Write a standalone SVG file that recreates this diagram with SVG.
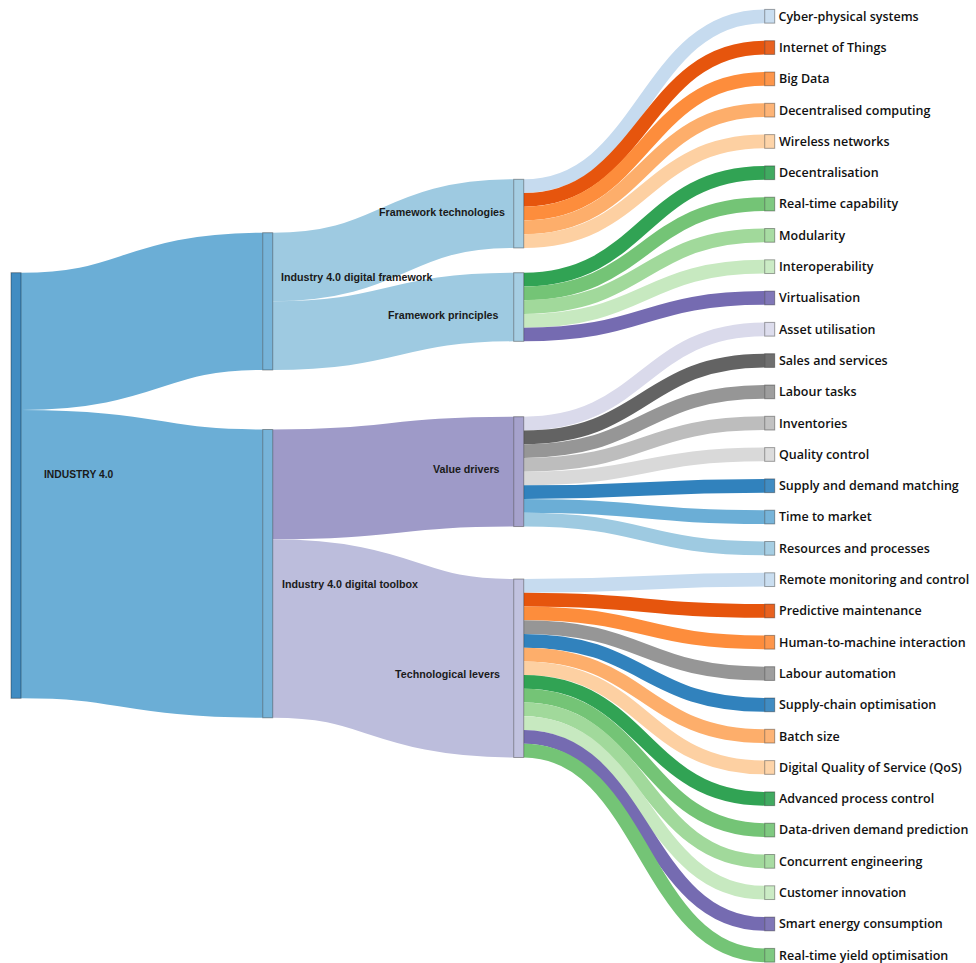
<svg xmlns="http://www.w3.org/2000/svg" width="976" height="963" viewBox="0 0 976 963">
<style>
.bg{fill:#ffffff}
.link{fill:none;stroke-opacity:1}
.node rect{stroke:#000;stroke-opacity:.35;stroke-width:1;fill-opacity:.92}
.mid{font-family:"Liberation Sans",Arial,sans-serif;font-weight:bold;font-size:10.7px;fill:#1a1a1a}
.leaf text{font-family:"Open Sans","Noto Sans",sans-serif;font-weight:600;font-size:12.5px;fill:#111}
</style>
<rect class="bg" x="0" y="0" width="976" height="963"/>
<g id="links">
<path class="link" stroke="#6baed6" stroke-width="137.3" d="M21,341.35C141.85,341.35 141.85,301.35 262.7,301.35"/>
<path class="link" stroke="#6baed6" stroke-width="288.3" d="M21,554.15C141.85,554.15 141.85,573.65 262.7,573.65"/>
<path class="link" stroke="#9ecae1" stroke-width="68.65" d="M272.7,267.03C393.2,267.03 393.2,213.63 513.7,213.63"/>
<path class="link" stroke="#9ecae1" stroke-width="68.65" d="M272.7,335.68C393.2,335.68 393.2,307.03 513.7,307.03"/>
<path class="link" stroke="#9e9ac8" stroke-width="109.84" d="M272.7,484.42C393.2,484.42 393.2,471.62 513.7,471.62"/>
<path class="link" stroke="#bcbddc" stroke-width="178.49" d="M272.7,628.58C393.2,628.58 393.2,668.24 513.7,668.24"/>
<g stroke-width="13.73">
<path class="link" stroke="#c6dbef" d="M523.7,186.17C644.2,186.17 644.2,16.27 764.7,16.27"/>
<path class="link" stroke="#e6550d" d="M523.7,199.9C644.2,199.9 644.2,47.57 764.7,47.57"/>
<path class="link" stroke="#fd8d3c" d="M523.7,213.63C644.2,213.63 644.2,78.87 764.7,78.87"/>
<path class="link" stroke="#fdae6b" d="M523.7,227.36C644.2,227.36 644.2,110.17 764.7,110.17"/>
<path class="link" stroke="#fdd0a2" d="M523.7,241.09C644.2,241.09 644.2,141.47 764.7,141.47"/>
<path class="link" stroke="#31a354" d="M523.7,279.57C644.2,279.57 644.2,172.77 764.7,172.77"/>
<path class="link" stroke="#74c476" d="M523.7,293.3C644.2,293.3 644.2,204.07 764.7,204.07"/>
<path class="link" stroke="#a1d99b" d="M523.7,307.03C644.2,307.03 644.2,235.37 764.7,235.37"/>
<path class="link" stroke="#c7e9c0" d="M523.7,320.76C644.2,320.76 644.2,266.67 764.7,266.67"/>
<path class="link" stroke="#756bb1" d="M523.7,334.49C644.2,334.49 644.2,297.97 764.7,297.97"/>
<path class="link" stroke="#dadaeb" d="M523.7,423.57C644.2,423.57 644.2,329.27 764.7,329.27"/>
<path class="link" stroke="#636363" d="M523.7,437.3C644.2,437.3 644.2,360.57 764.7,360.57"/>
<path class="link" stroke="#969696" d="M523.7,451.03C644.2,451.03 644.2,391.87 764.7,391.87"/>
<path class="link" stroke="#bdbdbd" d="M523.7,464.76C644.2,464.76 644.2,423.17 764.7,423.17"/>
<path class="link" stroke="#d9d9d9" d="M523.7,478.49C644.2,478.49 644.2,454.47 764.7,454.47"/>
<path class="link" stroke="#3182bd" d="M523.7,492.22C644.2,492.22 644.2,485.77 764.7,485.77"/>
<path class="link" stroke="#6baed6" d="M523.7,505.95C644.2,505.95 644.2,517.07 764.7,517.07"/>
<path class="link" stroke="#9ecae1" d="M523.7,519.68C644.2,519.68 644.2,548.37 764.7,548.37"/>
<path class="link" stroke="#c6dbef" d="M523.7,585.87C644.2,585.87 644.2,579.67 764.7,579.67"/>
<path class="link" stroke="#e6550d" d="M523.7,599.6C644.2,599.6 644.2,610.97 764.7,610.97"/>
<path class="link" stroke="#fd8d3c" d="M523.7,613.33C644.2,613.33 644.2,642.27 764.7,642.27"/>
<path class="link" stroke="#969696" d="M523.7,627.06C644.2,627.06 644.2,673.57 764.7,673.57"/>
<path class="link" stroke="#3182bd" d="M523.7,640.79C644.2,640.79 644.2,704.87 764.7,704.87"/>
<path class="link" stroke="#fdae6b" d="M523.7,654.52C644.2,654.52 644.2,736.17 764.7,736.17"/>
<path class="link" stroke="#fdd0a2" d="M523.7,668.25C644.2,668.25 644.2,767.47 764.7,767.47"/>
<path class="link" stroke="#31a354" d="M523.7,681.98C644.2,681.98 644.2,798.77 764.7,798.77"/>
<path class="link" stroke="#74c476" d="M523.7,695.71C644.2,695.71 644.2,830.07 764.7,830.07"/>
<path class="link" stroke="#a1d99b" d="M523.7,709.44C644.2,709.44 644.2,861.37 764.7,861.37"/>
<path class="link" stroke="#c7e9c0" d="M523.7,723.17C644.2,723.17 644.2,892.67 764.7,892.67"/>
<path class="link" stroke="#756bb1" d="M523.7,736.9C644.2,736.9 644.2,923.97 764.7,923.97"/>
<path class="link" stroke="#74c476" d="M523.7,750.63C644.2,750.63 644.2,955.27 764.7,955.27"/>
</g>
</g>
<g id="nodes">
<g id="n-industry" class="node"><rect x="11" y="272.7" width="10" height="425.6" fill="#3182bd"/><text class="mid" x="44" y="474" dy=".35em" style="font-size:10.3px">INDUSTRY 4.0</text></g>
<g id="n-framework" class="node"><rect x="262.7" y="232.7" width="10" height="137.3" fill="#6baed6"/><text class="mid" x="281" y="277.7" dy=".35em">Industry 4.0 digital framework</text></g>
<g id="n-toolbox" class="node"><rect x="262.7" y="429.5" width="10" height="288.3" fill="#6baed6"/><text class="mid" x="282" y="584.3" dy=".35em">Industry 4.0 digital toolbox</text></g>
<g id="n-tech" class="node"><rect x="513.7" y="179.3" width="10" height="68.65" fill="#9ecae1"/><text class="mid" x="505" y="212.7" dy=".35em" text-anchor="end">Framework technologies</text></g>
<g id="n-principles" class="node"><rect x="513.7" y="272.7" width="10" height="68.65" fill="#9ecae1"/><text class="mid" x="498.5" y="315" dy=".35em" text-anchor="end">Framework principles</text></g>
<g id="n-value" class="node"><rect x="513.7" y="416.7" width="10" height="109.84" fill="#9e9ac8"/><text class="mid" x="499.5" y="469" dy=".35em" text-anchor="end">Value drivers</text></g>
<g id="n-levers" class="node"><rect x="513.7" y="579" width="10" height="178.49" fill="#bcbddc"/><text class="mid" x="500" y="674.3" dy=".35em" text-anchor="end">Technological levers</text></g>

<g id="l00" class="node leaf"><rect x="764.7" y="9.4" width="10" height="13.73" fill="#c6dbef"/><text x="778.5" y="16.27" dy=".35em">Cyber-physical systems</text></g>
<g id="l01" class="node leaf"><rect x="764.7" y="40.7" width="10" height="13.73" fill="#e6550d"/><text x="779" y="47.57" dy=".35em">Internet of Things</text></g>
<g id="l02" class="node leaf"><rect x="764.7" y="72.0" width="10" height="13.73" fill="#fd8d3c"/><text x="779" y="78.87" dy=".35em">Big Data</text></g>
<g id="l03" class="node leaf"><rect x="764.7" y="103.3" width="10" height="13.73" fill="#fdae6b"/><text x="779" y="110.17" dy=".35em">Decentralised computing</text></g>
<g id="l04" class="node leaf"><rect x="764.7" y="134.6" width="10" height="13.73" fill="#fdd0a2"/><text x="779" y="141.47" dy=".35em">Wireless networks</text></g>
<g id="l05" class="node leaf"><rect x="764.7" y="165.9" width="10" height="13.73" fill="#31a354"/><text x="779" y="172.77" dy=".35em">Decentralisation</text></g>
<g id="l06" class="node leaf"><rect x="764.7" y="197.2" width="10" height="13.73" fill="#74c476"/><text x="779" y="204.07" dy=".35em">Real-time capability</text></g>
<g id="l07" class="node leaf"><rect x="764.7" y="228.5" width="10" height="13.73" fill="#a1d99b"/><text x="779" y="235.37" dy=".35em">Modularity</text></g>
<g id="l08" class="node leaf"><rect x="764.7" y="259.8" width="10" height="13.73" fill="#c7e9c0"/><text x="779" y="266.67" dy=".35em">Interoperability</text></g>
<g id="l09" class="node leaf"><rect x="764.7" y="291.1" width="10" height="13.73" fill="#756bb1"/><text x="779" y="297.97" dy=".35em">Virtualisation</text></g>
<g id="l10" class="node leaf"><rect x="764.7" y="322.4" width="10" height="13.73" fill="#dadaeb"/><text x="779" y="329.27" dy=".35em">Asset utilisation</text></g>
<g id="l11" class="node leaf"><rect x="764.7" y="353.7" width="10" height="13.73" fill="#636363"/><text x="779" y="360.57" dy=".35em">Sales and services</text></g>
<g id="l12" class="node leaf"><rect x="764.7" y="385.0" width="10" height="13.73" fill="#969696"/><text x="779" y="391.87" dy=".35em">Labour tasks</text></g>
<g id="l13" class="node leaf"><rect x="764.7" y="416.3" width="10" height="13.73" fill="#bdbdbd"/><text x="779" y="423.17" dy=".35em">Inventories</text></g>
<g id="l14" class="node leaf"><rect x="764.7" y="447.6" width="10" height="13.73" fill="#d9d9d9"/><text x="779" y="454.47" dy=".35em">Quality control</text></g>
<g id="l15" class="node leaf"><rect x="764.7" y="478.9" width="10" height="13.73" fill="#3182bd"/><text x="779" y="485.77" dy=".35em">Supply and demand matching</text></g>
<g id="l16" class="node leaf"><rect x="764.7" y="510.2" width="10" height="13.73" fill="#6baed6"/><text x="779" y="517.07" dy=".35em">Time to market</text></g>
<g id="l17" class="node leaf"><rect x="764.7" y="541.5" width="10" height="13.73" fill="#9ecae1"/><text x="779" y="548.37" dy=".35em">Resources and processes</text></g>
<g id="l18" class="node leaf"><rect x="764.7" y="572.8" width="10" height="13.73" fill="#c6dbef"/><text x="779" y="579.67" dy=".35em">Remote monitoring and control</text></g>
<g id="l19" class="node leaf"><rect x="764.7" y="604.1" width="10" height="13.73" fill="#e6550d"/><text x="779" y="610.97" dy=".35em">Predictive maintenance</text></g>
<g id="l20" class="node leaf"><rect x="764.7" y="635.4" width="10" height="13.73" fill="#fd8d3c"/><text x="779" y="642.27" dy=".35em">Human-to-machine interaction</text></g>
<g id="l21" class="node leaf"><rect x="764.7" y="666.7" width="10" height="13.73" fill="#969696"/><text x="779" y="673.57" dy=".35em">Labour automation</text></g>
<g id="l22" class="node leaf"><rect x="764.7" y="698.0" width="10" height="13.73" fill="#3182bd"/><text x="779" y="704.87" dy=".35em">Supply-chain optimisation</text></g>
<g id="l23" class="node leaf"><rect x="764.7" y="729.3" width="10" height="13.73" fill="#fdae6b"/><text x="779" y="736.17" dy=".35em">Batch size</text></g>
<g id="l24" class="node leaf"><rect x="764.7" y="760.6" width="10" height="13.73" fill="#fdd0a2"/><text x="779" y="767.47" dy=".35em">Digital Quality of Service (QoS)</text></g>
<g id="l25" class="node leaf"><rect x="764.7" y="791.9" width="10" height="13.73" fill="#31a354"/><text x="779" y="798.77" dy=".35em">Advanced process control</text></g>
<g id="l26" class="node leaf"><rect x="764.7" y="823.2" width="10" height="13.73" fill="#74c476"/><text x="779" y="830.07" dy=".35em">Data-driven demand prediction</text></g>
<g id="l27" class="node leaf"><rect x="764.7" y="854.5" width="10" height="13.73" fill="#a1d99b"/><text x="779" y="861.37" dy=".35em">Concurrent engineering</text></g>
<g id="l28" class="node leaf"><rect x="764.7" y="885.8" width="10" height="13.73" fill="#c7e9c0"/><text x="779" y="892.67" dy=".35em">Customer innovation</text></g>
<g id="l29" class="node leaf"><rect x="764.7" y="917.1" width="10" height="13.73" fill="#756bb1"/><text x="779" y="923.97" dy=".35em">Smart energy consumption</text></g>
<g id="l30" class="node leaf"><rect x="764.7" y="948.4" width="10" height="13.73" fill="#74c476"/><text x="779" y="955.27" dy=".35em">Real-time yield optimisation</text></g>
</g>
</svg>
